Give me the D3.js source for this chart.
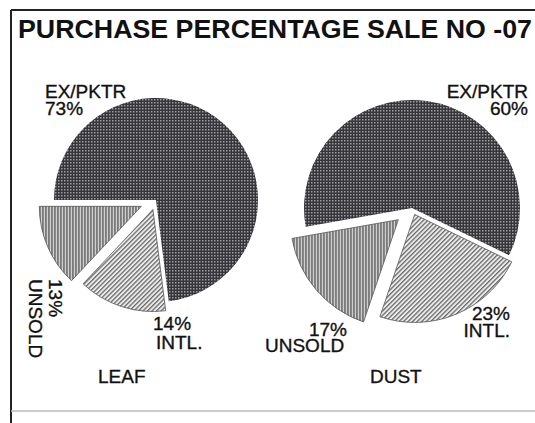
<!DOCTYPE html>
<html>
<head>
<meta charset="utf-8">
<script src="https://cdn.jsdelivr.net/npm/d3@7"></script>
<style>
  body { margin: 0; background: #fff; }
  svg { display: block; font-family: "Liberation Sans", Arial, sans-serif; }
</style>
</head>
<body>
<div id="chart"></div>
<script>
const categories = ["EX/PKTR", "INTL.", "UNSOLD"];
const leafValues = [73, 14, 13];
const dustValues = [60, 23, 17];
const pieNames = ["LEAF", "DUST"];
const chartTitle = "PURCHASE PERCENTAGE SALE NO -07";

const width = 535;
const height = 423;

const svg = d3.select("#chart").append("svg")
  .attr("width", width)
  .attr("height", height);

// fill patterns that mimic the printed shading
const defs = svg.append("defs");

const dots = defs.append("pattern")
  .attr("id", "pat-dots")
  .attr("width", 3).attr("height", 3)
  .attr("patternUnits", "userSpaceOnUse");
dots.append("rect").attr("width", 3).attr("height", 3).attr("fill", "#363639");
dots.append("rect").attr("x", 1).attr("y", 1).attr("width", 1.5).attr("height", 1.5).attr("fill", "#9c9ca4");

const vlines = defs.append("pattern")
  .attr("id", "pat-vlines")
  .attr("width", 3).attr("height", 3)
  .attr("patternUnits", "userSpaceOnUse");
vlines.append("rect").attr("width", 3).attr("height", 3).attr("fill", "#e4e4e4");
vlines.append("rect").attr("width", 1.4).attr("height", 3).attr("fill", "#4a4a4a");

const dlines = defs.append("pattern")
  .attr("id", "pat-dlines")
  .attr("width", 3.2).attr("height", 3.2)
  .attr("patternUnits", "userSpaceOnUse")
  .attr("patternTransform", "rotate(45)");
dlines.append("rect").attr("width", 3.2).attr("height", 3.2).attr("fill", "#ececec");
dlines.append("rect").attr("width", 1.3).attr("height", 3.2).attr("fill", "#6a6a6a");

const fills = d3.scaleOrdinal()
  .domain(categories)
  .range(["url(#pat-dots)", "url(#pat-dlines)", "url(#pat-vlines)"]);

// frame
svg.append("line").attr("x1", 11).attr("x2", width).attr("y1", 10).attr("y2", 10)
  .attr("stroke", "#222").attr("stroke-width", 2);
svg.append("line").attr("x1", 11).attr("x2", 11).attr("y1", 10).attr("y2", height)
  .attr("stroke", "#222").attr("stroke-width", 2);
svg.append("line").attr("x1", 11).attr("x2", width).attr("y1", 411).attr("y2", 411)
  .attr("stroke", "#bbb").attr("stroke-width", 1.5);

svg.append("text")
  .attr("x", 18)
  .attr("y", 38)
  .attr("textLength", 514)
  .attr("lengthAdjust", "spacingAndGlyphs")
  .attr("font-size", 26)
  .attr("font-weight", "bold")
  .attr("fill", "#111")
  .text(chartTitle);

const pies = [
  { name: pieNames[0], values: leafValues, cx: 156, cy: 200, r: 102, start: -90, explode: [0, 10, 16] },
  { name: pieNames[1], values: dustValues, cx: 412, cy: 208, r: 108, start: -100, explode: [0, 7, 18] }
];

pies.forEach((p) => {
  const data = categories.map((c, i) => ({ name: c, value: p.values[i], explode: p.explode[i] }));
  const startRad = p.start * Math.PI / 180;
  const pie = d3.pie()
    .sort(null)
    .value((d) => d.value)
    .startAngle(startRad)
    .endAngle(startRad + 2 * Math.PI);
  const arc = d3.arc().innerRadius(0).outerRadius(p.r);

  const g = svg.append("g").attr("transform", `translate(${p.cx},${p.cy})`);

  g.selectAll("path")
    .data(pie(data))
    .enter()
    .append("path")
    .attr("d", arc)
    .attr("transform", (d) => {
      const mid = (d.startAngle + d.endAngle) / 2;
      const off = d.data.explode;
      return `translate(${Math.sin(mid) * off},${-Math.cos(mid) * off})`;
    })
    .attr("fill", (d) => fills(d.data.name))
    .attr("stroke", (d) => (d.data.explode ? "#555" : "none"))
    .attr("stroke-width", 0.8);
});

// labels
function label(x, y, lines, anchor, rotate, step) {
  const t = svg.append("text")
    .attr("text-anchor", anchor)
    .attr("transform", `translate(${x},${y})` + (rotate ? ` rotate(${rotate})` : ""))
    .attr("font-size", 19)
    .attr("fill", "#111")
    .attr("stroke", "#111")
    .attr("stroke-width", 0.35);
  lines.forEach((l, i) => {
    t.append("tspan").attr("x", 0).attr("dy", i === 0 ? 0 : (step || 17)).text(l);
  });
}

// LEAF
label(45, 98, [categories[0], leafValues[0] + "%"], "start");
label(153, 330, [leafValues[1] + "%"], "start");
label(156, 349, [categories[1]], "start");
label(49, 279, [leafValues[2] + "%", categories[2]], "start", 90, 20);
label(98, 383, [pieNames[0]], "start");

// DUST
label(528, 98, [categories[0], dustValues[0] + "%"], "end");
label(510, 320, [dustValues[1] + "%", categories[1]], "end");
label(347, 336, [dustValues[2] + "%"], "end");
label(265, 352, [categories[2]], "start");
label(370, 383, [pieNames[1]], "start");
</script>
</body>
</html>
